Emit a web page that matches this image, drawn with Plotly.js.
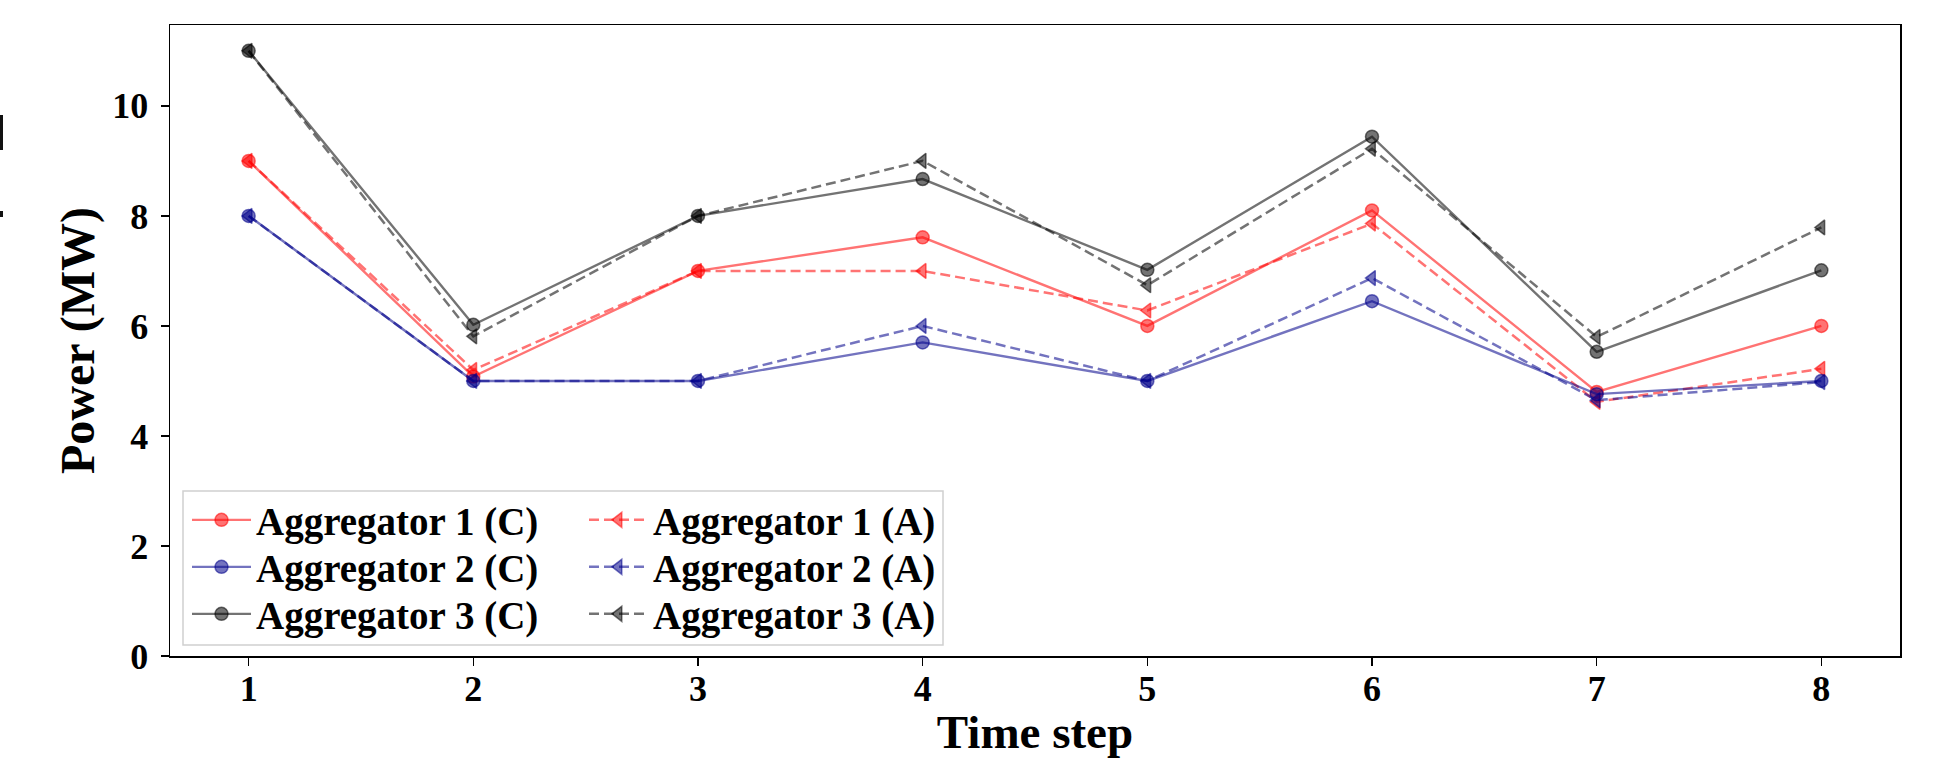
<!DOCTYPE html>
<html>
<head>
<meta charset="utf-8">
<script src="https://cdn.plot.ly/plotly-3.0.1.min.js"></script>
<style>
  html, body { margin: 0; padding: 0; background: #ffffff; }
  #chart { width: 1938px; height: 762px; }
</style>
</head>
<body>
<div id="chart"></div>
<script>
// ---- data ----
const timeSteps = [1, 2, 3, 4, 5, 6, 7, 8];
const agg1C = [9.0, 5.08, 7.0, 7.61, 6.0, 8.1, 4.8, 6.0];
const agg1A = [9.0, 5.2, 7.0, 7.0, 6.28, 7.86, 4.62, 5.22];
const agg2C = [8.0, 5.0, 5.0, 5.7, 5.0, 6.45, 4.76, 5.0];
const agg2A = [8.0, 5.0, 5.0, 6.0, 5.0, 6.87, 4.65, 4.98];
const agg3C = [11.0, 6.02, 8.0, 8.67, 7.02, 9.44, 5.53, 7.01];
const agg3A = [11.0, 5.81, 8.0, 9.0, 6.74, 9.22, 5.8, 7.79];
const seriesNames = ['Aggregator 1 (C)', 'Aggregator 1 (A)', 'Aggregator 2 (C)',
                     'Aggregator 2 (A)', 'Aggregator 3 (C)', 'Aggregator 3 (A)'];
const yTicks = [0, 2, 4, 6, 8, 10];

// ---- styling ----
const FONT = 'Liberation Serif, Times New Roman, Times, serif';
const RED = 'rgba(255,0,0,0.55)';
const BLUE = 'rgba(0,0,139,0.55)';
const GRAY = 'rgba(0,0,0,0.55)';

function solid(y, name, color, legend) {
  return {
    x: timeSteps, y: y, name: name, type: 'scatter', mode: 'lines+markers',
    legend: legend,
    line: { color: color, width: 2.4 },
    marker: { symbol: 'circle', size: 13, color: color, line: { color: color, width: 1.5 } }
  };
}
function dashed(y, name, color, legend) {
  return {
    x: timeSteps, y: y, name: name, type: 'scatter', mode: 'lines+markers',
    legend: legend,
    line: { color: color, width: 2.5, dash: '10px,5px' },
    marker: { symbol: 'triangle-left', size: 13, color: color, line: { color: color, width: 1.5 } }
  };
}

const traces = [
  solid(agg1C, seriesNames[0], RED, 'legend'),
  dashed(agg1A, seriesNames[1], RED, 'legend2'),
  solid(agg2C, seriesNames[2], BLUE, 'legend3'),
  dashed(agg2A, seriesNames[3], BLUE, 'legend4'),
  solid(agg3C, seriesNames[4], GRAY, 'legend5'),
  dashed(agg3A, seriesNames[5], GRAY, 'legend6')
];

const L = 170, R = 1900, T = 25, B = 656;
const pw = R - L, ph = B - T;
const px = v => (v - L) / pw;
const py = v => (B - v) / ph;

const legendCommon = {
  font: { family: FONT, size: 39, color: '#000', weight: 'bold' },
  bgcolor: 'rgba(0,0,0,0)', borderwidth: 0,
  orientation: 'v', xanchor: 'left', yanchor: 'top',
  itemwidth: 59, traceorder: 'normal', tracegroupgap: 0
};
const colX = [px(187), px(584)];
const rowTop = [py(488), py(535), py(582)];
function leg(c, r) { return Object.assign({}, legendCommon, { x: colX[c], y: rowTop[r] }); }

const layout = {
  width: 1938, height: 762,
  paper_bgcolor: '#ffffff', plot_bgcolor: '#ffffff',
  margin: { l: L, r: 1938 - R, t: T, b: 762 - B, pad: 0 },
  font: { family: FONT, color: '#000', weight: 'bold' },
  showlegend: true,
  legend: leg(0, 0), legend2: leg(1, 0),
  legend3: leg(0, 1), legend4: leg(1, 1),
  legend5: leg(0, 2), legend6: leg(1, 2),
  xaxis: {
    range: [0.65, 8.35], tickmode: 'array', tickvals: timeSteps,
    ticks: 'outside', ticklen: 8, tickwidth: 1.5, tickcolor: '#000',
    ticklabelstandoff: -8,
    showline: true, linecolor: '#000', linewidth: 1.5, mirror: true,
    showgrid: false, zeroline: false,
    tickfont: { family: FONT, size: 36, color: '#000', weight: 'bold' },
    title: { text: 'Time step', font: { family: FONT, size: 47, color: '#000', weight: 'bold' }, standoff: 7 },
    automargin: false
  },
  yaxis: {
    range: [0, 11.47], tickmode: 'array', tickvals: yTicks,
    ticks: 'outside', ticklen: 8, tickwidth: 1.5, tickcolor: '#000',
    ticklabelstandoff: 5,
    showline: true, linecolor: '#000', linewidth: 1.5, mirror: true,
    showgrid: false, zeroline: false,
    tickfont: { family: FONT, size: 36, color: '#000', weight: 'bold' },
    title: { text: 'Power (MW)', font: { family: FONT, size: 48, color: '#000', weight: 'bold' }, standoff: 2 },
    automargin: false
  },
  shapes: [
    { type: 'rect', xref: 'paper', yref: 'paper', layer: 'above',
      x0: px(183), x1: px(943), y0: py(645), y1: py(491),
      line: { color: '#d0d0d0', width: 1.5 }, fillcolor: 'rgba(255,255,255,0.85)' },
    { type: 'rect', xref: 'paper', yref: 'paper', layer: 'above',
      x0: px(0), x1: px(3), y0: py(150), y1: py(115),
      line: { width: 0 }, fillcolor: '#111' },
    { type: 'rect', xref: 'paper', yref: 'paper', layer: 'above',
      x0: px(0), x1: px(3), y0: py(217), y1: py(211),
      line: { width: 0 }, fillcolor: '#111' }
  ]
};

Plotly.newPlot('chart', traces, layout, { displayModeBar: false, staticPlot: true });
</script>
</body>
</html>
